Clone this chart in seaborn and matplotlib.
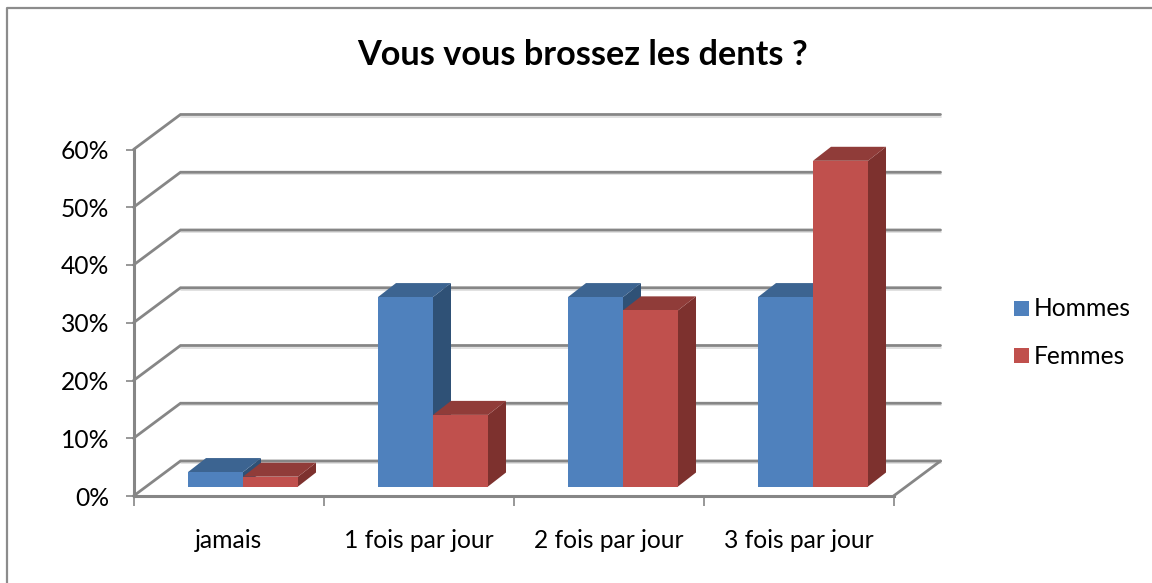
import matplotlib
matplotlib.use('Agg')
import matplotlib.pyplot as plt
from matplotlib.lines import Line2D
from matplotlib.patches import Polygon
import pandas as pd
import seaborn as sns

categories = ['jamais', '1 fois par jour', '2 fois par jour', '3 fois par jour']
hommes = [2.5, 32.8, 32.8, 32.8]
femmes = [1.7, 12.4, 30.5, 56.4]
y_ticks = [0, 10, 20, 30, 40, 50, 60]

W, H = 1152, 583
# plot box of the front plane, in pixels
X0, X1, Y0, Y60 = 133.5, 893.5, 496, 149.5
PX_X = (X1 - X0) / 4
PX_Y = (Y0 - Y60) / 60
# 3d depth of the walls and bars, pixels turned into data units
WALL_DX, WALL_DY = 47 / PX_X, 35 / PX_Y
BAR_DX, BAR_DY = 18 / PX_X, 14 / PX_Y
SHIFT_X, SHIFT_Y = 14.5 / PX_X, 9.5 / PX_Y

GRID = '#868686'
FACES = {
    'Hommes': ('#4F81BD', '#3C6491', '#2F5176'),
    'Femmes': ('#C0504D', '#903C39', '#7D312E'),
}
FONT_SIZE = 17.7

sns.set_theme(style='white')
plt.rcParams['font.family'] = ['Lato', 'DejaVu Sans']
plt.rcParams['text.color'] = 'black'
plt.rcParams['xtick.labelcolor'] = 'black'
plt.rcParams['ytick.labelcolor'] = 'black'

df = pd.DataFrame({
    'categorie': categories * 2,
    'genre': ['Hommes'] * 4 + ['Femmes'] * 4,
    'valeur': hommes + femmes,
})

fig = plt.figure(figsize=(W / 100, H / 100), dpi=100)
ax = fig.add_axes([X0 / W, 1 - Y0 / H, (X1 - X0) / W, (Y0 - Y60) / H])

sns.barplot(data=df, x='categorie', y='valeur', hue='genre', order=categories,
            hue_order=['Hommes', 'Femmes'], palette=[FACES['Hommes'][0], FACES['Femmes'][0]],
            width=0.579, gap=0, saturation=1, legend=False, ax=ax)
ax.set_xlim(-0.5, 3.5)
ax.set_ylim(0, 60)

# back wall, left wall and floor
for t in y_ticks:
    ax.plot([-0.5 + WALL_DX, 3.5 + WALL_DX], [t + WALL_DY - 0.35] * 2, color='#dcdcdc', lw=1.2,
            clip_on=False, zorder=1)
    ax.plot([-0.5, -0.5 + WALL_DX, 3.5 + WALL_DX], [t, t + WALL_DY, t + WALL_DY], color=GRID, lw=2,
            clip_on=False, zorder=1.1, solid_joinstyle='miter')
ax.plot([3.5, 3.5 + WALL_DX], [0, WALL_DY], color=GRID, lw=2, clip_on=False, zorder=1.1)

# move the bars to the middle of the floor and give them a top and a side
z = 3
for container, name in zip(ax.containers, ['Hommes', 'Femmes']):
    front, top, side = FACES[name]
    for bar in container:
        x0 = bar.get_x() + SHIFT_X
        x1 = x0 + bar.get_width()
        h = bar.get_height()
        bar.set_x(x0)
        bar.set_y(SHIFT_Y)
        bar.set_zorder(z + 0.2)
        bar.set_linewidth(0)
        b, t = SHIFT_Y, SHIFT_Y + h
        ax.add_patch(Polygon([(x1, b), (x1, t), (x1 + BAR_DX, t + BAR_DY), (x1 + BAR_DX, b + BAR_DY)],
                             facecolor=side, lw=0, zorder=z, clip_on=False))
        ax.add_patch(Polygon([(x0, t), (x1, t), (x1 + BAR_DX, t + BAR_DY), (x0 + BAR_DX, t + BAR_DY)],
                             facecolor=top, lw=0, zorder=z + 0.1, clip_on=False))
    z += 1

# front axis lines
sns.despine(ax=ax, top=True, right=True)
for s in ['left', 'bottom']:
    ax.spines[s].set_color(GRID)
    ax.spines[s].set_linewidth(2.2)
    ax.spines[s].set_zorder(8)

ax.set_yticks(y_ticks)
ax.set_yticklabels([f'{t}%' for t in y_ticks])
ax.set_xticks([-0.5, 0.5, 1.5, 2.5, 3.5], minor=True)
ax.tick_params(axis='y', length=5.5, width=1.2, color=GRID, pad=12, labelsize=FONT_SIZE, left=True)
ax.tick_params(axis='x', which='major', length=0, pad=24, labelsize=FONT_SIZE, bottom=False)
ax.tick_params(axis='x', which='minor', length=7, width=1.2, color=GRID, bottom=True)
ax.set_xlabel('')
ax.set_ylabel('')

fig.text(583 / W, 1 - 55 / H, 'Vous vous brossez les dents ?', ha='center', va='center',
         fontsize=24.7, fontweight='bold', color='black')

handles = [Line2D([], [], marker='s', ls='', ms=10.8, mew=0, color=FACES[n][0]) for n in ['Hommes', 'Femmes']]
fig.legend(handles, ['Hommes', 'Femmes'], loc='center left', bbox_to_anchor=(1014 / W, 1 - 332.5 / H),
           frameon=False, fontsize=FONT_SIZE, labelspacing=1.0, handlelength=0.6, handletextpad=0.2,
           borderpad=0, borderaxespad=0)

# chart frame, only its top and left are inside the picture
fig.add_artist(Line2D([6.5 / W, 6.5 / W, 1], [0, 1 - 8 / H, 1 - 8 / H], color='#8c8c8c', lw=1.6))

fig.savefig('out.png', dpi=100)
